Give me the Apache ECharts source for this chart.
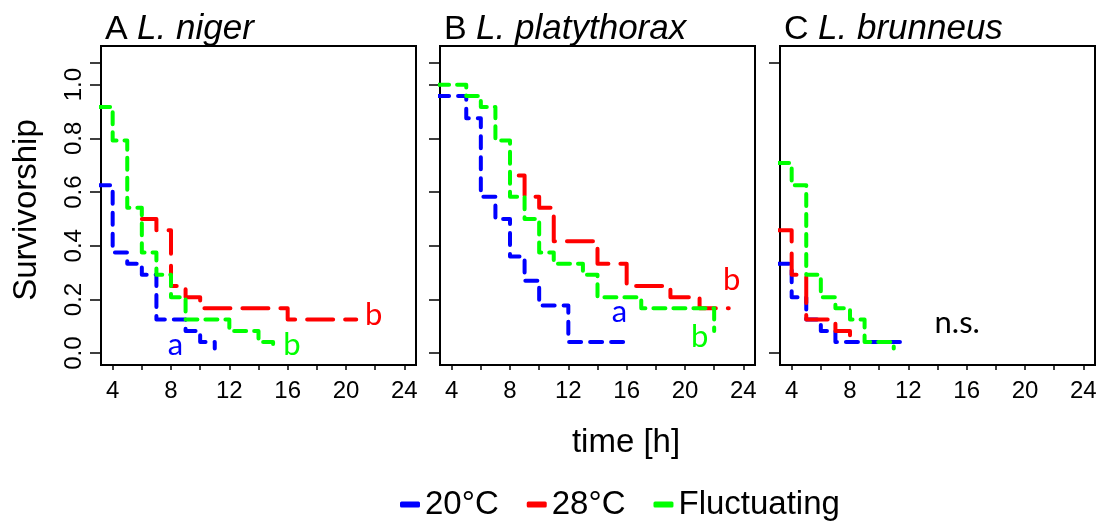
<!DOCTYPE html>
<html><head><meta charset="utf-8">
<script src="https://cdn.jsdelivr.net/npm/echarts@6/dist/echarts.min.js"></script>
<style>html,body{margin:0;padding:0;background:#fff}#c{width:1100px;height:525px}</style>
</head><body><div id="c"></div>
<script>
// ---- data ----
const seriesNames = ['20°C', '28°C', 'Fluctuating'];
const panelLetters = ['A ', 'B ', 'C '];
const panelSpecies = ['L. niger', 'L. platythorax', 'L. brunneus'];

// Panel A – L. niger (time [h], survivorship)
const aBlueT = [3, 4, 5, 6, 7, 9, 10, 11];
const aBlueS = [0.625, 0.375, 0.333, 0.292, 0.125, 0.083, 0.042, 0.017];
const aRedT = [6, 7, 8, 9, 10, 16, 20.7];
const aRedS = [0.5, 0.458, 0.25, 0.208, 0.167, 0.125, 0.125];
const aGreenT = [3, 4, 5, 6, 7, 8, 9, 12, 14, 15];
const aGreenS = [0.917, 0.792, 0.542, 0.375, 0.292, 0.208, 0.125, 0.083, 0.042, 0.017];

// Panel B – L. platythorax
const bBlueT = [3, 5, 6, 7, 8, 9, 10, 12, 16];
const bBlueS = [0.958, 0.875, 0.583, 0.5, 0.36, 0.27, 0.178, 0.042, 0.042];
const bRedT = [8.6, 9, 10, 11, 14, 16, 19, 21, 23];
const bRedS = [0.662, 0.583, 0.542, 0.417, 0.333, 0.25, 0.208, 0.167, 0.167];
const bGreenT = [3, 5, 6, 7, 8, 9, 10, 11, 13, 14, 17, 22];
const bGreenS = [1.0, 0.958, 0.917, 0.792, 0.583, 0.5, 0.375, 0.333, 0.292, 0.208, 0.167, 0.083];

// Panel C – L. brunneus
const cBlueT = [3, 4, 5, 6, 7, 12];
const cBlueS = [0.333, 0.208, 0.125, 0.083, 0.042, 0.042];
const cRedT = [3, 4, 5, 7, 8];
const cRedS = [0.458, 0.292, 0.125, 0.083, 0.042];
const cGreenT = [3, 4, 5, 6, 7, 8, 9, 11];
const cGreenS = [0.708, 0.625, 0.292, 0.208, 0.167, 0.125, 0.042, 0.017];

const xTickValues = [4, 6, 8, 10, 12, 14, 16, 18, 20, 22, 24];
const xLabelValues = [4, 8, 12, 16, 20, 24];
const yLabelValues = [0, 0.2, 0.4, 0.6, 0.8, 1.0];
const yTickValuesAB = [0, 0.2, 0.4, 0.6, 0.8, 1.0, 1.08];
const yTickValuesC = [0, 1.08];

// significance letters (text, panel, colour index or -1 for black, time, survivorship)
const annText = ['a', 'b', 'b', 'a', 'b', 'b', 'n.s.'];
const annPanel = [0, 0, 0, 1, 1, 1, 2];
const annColor = [0, 2, 1, 0, 1, 2, -1];
const annX = [8.3, 16.3, 21.9, 15.5, 23.2, 21.0, 15.35];
const annY = [0.03, 0.03, 0.141, 0.154, 0.271, 0.061, 0.114];

// ---- styling ----
const colors = ['#0000FF', '#FF0000', '#00FF00'];
const dashes = [[12, 9], [26, 12], [12, 8]];
const FONT = '"Liberation Sans", Arial, sans-serif';
const gridLefts = [101, 440, 780];

const panels = [
  [[aBlueT, aBlueS], [aRedT, aRedS], [aGreenT, aGreenS]],
  [[bBlueT, bBlueS], [bRedT, bRedS], [bGreenT, bGreenS]],
  [[cBlueT, cBlueS], [cRedT, cRedS], [cGreenT, cGreenS]]
];

const grids = [], xAxes = [], yAxes = [], series = [], titles = [];
panels.forEach((curves, p) => {
  grids.push({left: gridLefts[p], top: 46, width: 315, height: 319, show: true,
    borderColor: '#000', borderWidth: 2, backgroundColor: 'transparent'});
  xAxes.push({type: 'value', gridIndex: p, min: 3.2, max: 24.8, position: 'bottom',
    splitLine: {show: false}, axisLine: {show: false, onZero: false},
    axisTick: {show: true, inside: false, customValues: xTickValues, length: 5, lineStyle: {color: '#000', width: 1.5}},
    axisLabel: {show: true, customValues: xLabelValues, fontSize: 24, color: '#000', margin: 14, fontFamily: FONT}});
  yAxes.push({type: 'value', gridIndex: p, min: -0.044, max: 1.144, position: 'left',
    splitLine: {show: false}, axisLine: {show: false, onZero: false},
    axisTick: {show: true, inside: false, customValues: p === 2 ? yTickValuesC : yTickValuesAB, length: 11, lineStyle: {color: '#000', width: 1.5}},
    axisLabel: {show: p === 0, customValues: yLabelValues, rotate: 90, fontSize: 24, color: '#000', margin: 15,
      fontFamily: FONT, formatter: v => v.toFixed(1)}});
  curves.forEach((c, k) => {
    series.push({type: 'line', name: seriesNames[k], xAxisIndex: p, yAxisIndex: p, step: 'end',
      symbol: 'none', showSymbol: false, silent: true, z: 2 + k, clip: true,
      data: c[0].map((t, i) => [t, c[1][i]]),
      itemStyle: {color: colors[k]},
      lineStyle: {color: colors[k], width: 4, type: dashes[k], cap: 'round', join: 'round'}});
  });
  const annData = [];
  annText.forEach((txt, i) => {
    if (annPanel[i] !== p) return;
    annData.push({value: [annX[i], annY[i]], label: {formatter: txt,
      color: annColor[i] < 0 ? '#000' : colors[annColor[i]]}});
  });
  series.push({type: 'scatter', name: 'ann' + p, xAxisIndex: p, yAxisIndex: p, symbolSize: 0, silent: true, z: 10,
    itemStyle: {opacity: 1, color: 'transparent'},
    data: annData, label: {show: true, position: 'inside', fontSize: 31, textBorderWidth: 0, opacity: 1,
      fontFamily: 'Lato, "Open Sans", sans-serif'}});
  titles.push({text: '{n|' + panelLetters[p] + '}{i|' + panelSpecies[p] + '}', left: gridLefts[p] + 4, top: 12, padding: 0,
    textStyle: {fontWeight: 'normal', rich: {n: {fontSize: 34, color: '#000', fontWeight: 'normal', fontFamily: FONT},
                       i: {fontSize: 35, color: '#000', fontStyle: 'italic', fontWeight: 'normal', fontFamily: FONT}}}});
});

const chart = echarts.init(document.getElementById('c'), null, {renderer: 'canvas'});
chart.setOption({
  animation: false,
  backgroundColor: '#fff',
  title: titles,
  grid: grids, xAxis: xAxes, yAxis: yAxes, series: series,
  legend: {data: seriesNames, left: 400, top: 488, padding: 0, itemGap: 28, itemWidth: 20, itemHeight: 6,
    icon: 'roundRect', selectedMode: false,
    textStyle: {fontSize: 33, color: '#000', fontFamily: FONT, padding: [0, 0, 0, 0]}},
  graphic: [
    {type: 'text', x: 27, y: 210, rotation: Math.PI / 2,
      style: {text: 'Survivorship', fontSize: 33, fontFamily: FONT, fill: '#000', textAlign: 'center', textVerticalAlign: 'middle'}},
    {type: 'text', x: 626, y: 443,
      style: {text: 'time [h]', fontSize: 33, fontFamily: FONT, fill: '#000', textAlign: 'center', textVerticalAlign: 'middle'}}
  ]
});
</script></body></html>
